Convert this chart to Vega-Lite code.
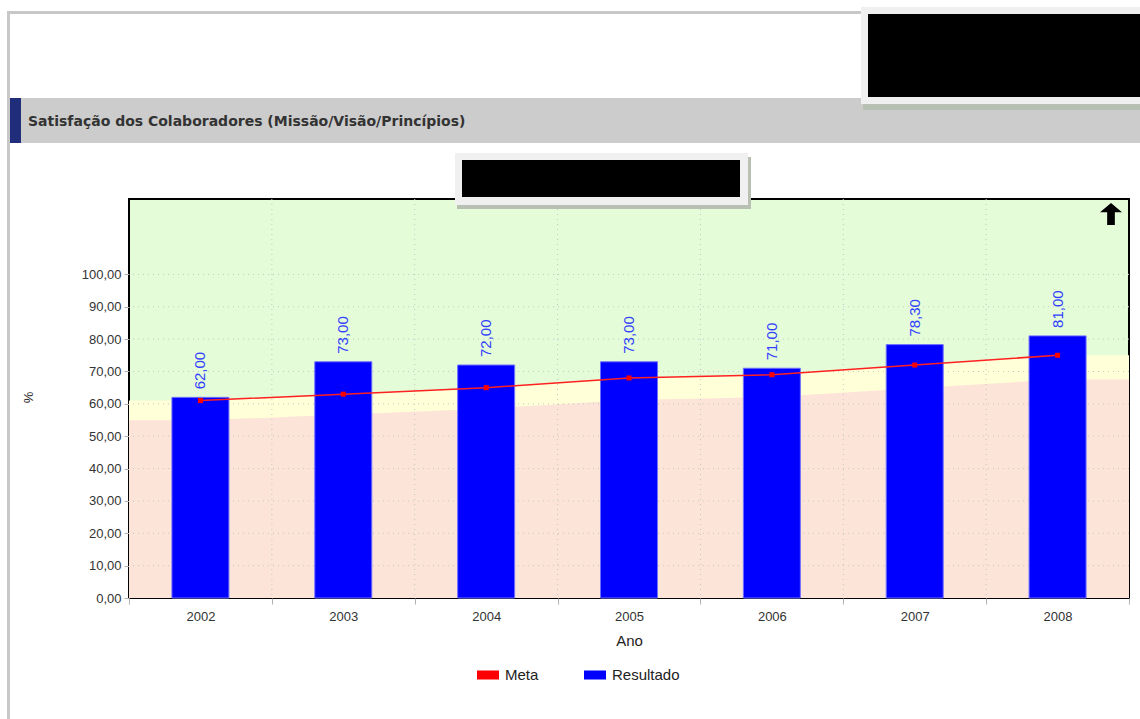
{
  "$schema": "https://vega.github.io/schema/vega-lite/v6.json",
  "width": 1000,
  "height": 399,
  "autosize": {"type": "none"},
  "padding": {"left": 129, "top": 199, "right": 11, "bottom": 121},
  "background": "#ffffff",
  "config": {
    "font": "Liberation Sans",
    "locale": {"number": {"decimal": ",", "thousands": ".", "grouping": [3], "currency": ["R$", ""]}},
    "view": {"fill": "#e4fcd8", "stroke": "#000000", "strokeWidth": 2}
  },
  "datasets": {
    "faixas": [
      {"ano": 2001.5, "meta": 61, "limite": 54.9},
      {"ano": 2002, "meta": 61, "limite": 54.9},
      {"ano": 2003, "meta": 63, "limite": 56.7},
      {"ano": 2004, "meta": 65, "limite": 58.5},
      {"ano": 2005, "meta": 68, "limite": 61.2},
      {"ano": 2006, "meta": 69, "limite": 62.1},
      {"ano": 2007, "meta": 72, "limite": 64.8},
      {"ano": 2008, "meta": 75, "limite": 67.5},
      {"ano": 2008.5, "meta": 75, "limite": 67.5}
    ],
    "gradeY": [{"v": 10}, {"v": 20}, {"v": 30}, {"v": 40}, {"v": 50}, {"v": 60}, {"v": 70}, {"v": 80}, {"v": 90}, {"v": 100}],
    "gradeX": [{"v": 2002.5}, {"v": 2003.5}, {"v": 2004.5}, {"v": 2005.5}, {"v": 2006.5}, {"v": 2007.5}],
    "resultado": [
      {"ano": 2002, "valor": 62, "serie": "Resultado"},
      {"ano": 2003, "valor": 73, "serie": "Resultado"},
      {"ano": 2004, "valor": 72, "serie": "Resultado"},
      {"ano": 2005, "valor": 73, "serie": "Resultado"},
      {"ano": 2006, "valor": 71, "serie": "Resultado"},
      {"ano": 2007, "valor": 78.3, "serie": "Resultado"},
      {"ano": 2008, "valor": 81, "serie": "Resultado"}
    ],
    "meta": [
      {"ano": 2002, "valor": 61, "serie": "Meta"},
      {"ano": 2003, "valor": 63, "serie": "Meta"},
      {"ano": 2004, "valor": 65, "serie": "Meta"},
      {"ano": 2005, "valor": 68, "serie": "Meta"},
      {"ano": 2006, "valor": 69, "serie": "Meta"},
      {"ano": 2007, "valor": 72, "serie": "Meta"},
      {"ano": 2008, "valor": 75, "serie": "Meta"}
    ],
    "bordaPagina": [
      {"x0": 2000.646, "x1": 2000.667, "y0": 181.40, "y1": -37.39},
      {"x0": 2000.646, "x1": 2006.631, "y0": 181.40, "y1": 180.47}
    ],
    "cabecalho": [{"x0": 2000.667, "x1": 2008.577, "y0": 154.51, "y1": 140.61}],
    "faixaAzul": [{"x0": 2000.667, "x1": 2000.744, "y0": 154.51, "y1": 140.61}],
    "titulo": [{"x": 2000.793, "y": 147.1, "t": "Satisfação dos Colaboradores (Missão/Visão/Princípios)"}],
    "sombra": [
      {"x0": 2006.638, "x1": 2008.577, "y0": 152.66, "y1": 150.80},
      {"x0": 2003.796, "x1": 2005.854, "y0": 121.45, "y1": 120.21},
      {"x0": 2005.833, "x1": 2005.854, "y0": 136.28, "y1": 120.21}
    ],
    "moldura": [
      {"x0": 2006.624, "x1": 2008.577, "y0": 182.63, "y1": 152.66},
      {"x0": 2003.782, "x1": 2005.833, "y0": 137.52, "y1": 121.45}
    ],
    "tarja": [
      {"x0": 2006.673, "x1": 2008.577, "y0": 180.47, "y1": 154.82},
      {"x0": 2003.831, "x1": 2005.777, "y0": 135.35, "y1": 123.92}
    ],
    "seta": [{"x": 2008.374, "y": 118.67}]
  },
  "encoding": {
    "x": {
      "field": "ano", "type": "quantitative",
      "scale": {"domain": [2001.5, 2008.5], "nice": false, "zero": false, "padding": 0},
      "axis": {
        "title": "Ano",
        "values": [2001.5, 2002, 2002.5, 2003, 2003.5, 2004, 2004.5, 2005, 2005.5, 2006, 2006.5, 2007, 2007.5, 2008, 2008.5],
        "labelExpr": "datum.value % 1 === 0 ? '' + datum.value : ''",
        "tickOpacity": {"condition": {"test": "datum.value % 1 === 0", "value": 0}, "value": 1},
        "grid": false, "domain": false,
        "tickSize": 6, "tickColor": "#b0b0b0",
        "labelFontSize": 13, "labelColor": "#333333", "labelPadding": 6,
        "labelFlush": false, "labelOverlap": false,
        "titleFontSize": 15, "titleFontWeight": "normal", "titleColor": "#222222", "titlePadding": 10
      }
    },
    "y": {
      "type": "quantitative",
      "scale": {"domain": [0, 123.3], "nice": false, "zero": true},
      "axis": {
        "title": "%",
        "values": [0, 10, 20, 30, 40, 50, 60, 70, 80, 90, 100],
        "format": ".2f",
        "grid": false, "domain": false,
        "tickSize": 5, "tickColor": "#b0b0b0",
        "labelFontSize": 13, "labelColor": "#333333", "labelPadding": 3,
        "titleFontSize": 13, "titleFontWeight": "normal", "titleColor": "#222222",
        "titleX": -101, "titleY": 198, "titleBaseline": "middle", "titleAngle": 270
      }
    }
  },
  "layer": [
    {
      "data": {"name": "faixas"},
      "mark": {"type": "area", "color": "#ffffd8", "interpolate": "linear"},
      "encoding": {"y": {"field": "meta"}}
    },
    {
      "data": {"name": "faixas"},
      "mark": {"type": "area", "color": "#fde4d8", "interpolate": "linear"},
      "encoding": {"y": {"field": "limite"}}
    },
    {
      "data": {"name": "gradeY"},
      "mark": {"type": "rule", "color": "#c4c8c4", "strokeDash": [1, 4], "strokeWidth": 1},
      "encoding": {"x": null, "y": {"field": "v"}}
    },
    {
      "data": {"name": "gradeX"},
      "mark": {"type": "rule", "color": "#c4c8c4", "strokeDash": [1, 4], "strokeWidth": 1},
      "encoding": {"y": null, "x": {"field": "v"}}
    },
    {
      "data": {"name": "resultado"},
      "mark": {"type": "bar", "size": 57, "stroke": "#7070ff", "strokeWidth": 1},
      "encoding": {
        "y": {"field": "valor"},
        "color": {
          "field": "serie", "type": "nominal",
          "scale": {"domain": ["Meta", "Resultado"], "range": ["#ff0000", "#0000ff"]},
          "legend": {
            "title": null, "orient": "none", "direction": "horizontal",
            "legendX": 348, "legendY": 465, "padding": 0,
            "symbolType": "M-1,-0.41L1,-0.41L1,0.41L-1,0.41Z", "symbolSize": 484,
            "symbolStrokeWidth": 0, "symbolOpacity": 1,
            "labelFontSize": 15, "labelColor": "#222222", "labelOffset": 6,
            "columnPadding": 45
          }
        }
      }
    },
    {
      "data": {"name": "resultado"},
      "mark": {"type": "text", "angle": 270, "align": "left", "baseline": "middle", "dx": 8, "fontSize": 15, "color": "#3340ff"},
      "encoding": {"y": {"field": "valor"}, "text": {"field": "valor", "type": "quantitative", "format": ".2f"}}
    },
    {
      "data": {"name": "meta"},
      "mark": {"type": "line", "color": "#ff2020", "strokeWidth": 1.5},
      "encoding": {"y": {"field": "valor"}}
    },
    {
      "data": {"name": "meta"},
      "mark": {"type": "point", "shape": "square", "size": 25, "filled": true, "opacity": 1},
      "encoding": {"y": {"field": "valor"}, "color": {"field": "serie", "type": "nominal"}}
    },
    {
      "data": {"name": "seta"},
      "mark": {"type": "point", "shape": "M0,-1L1,-0.15L0.35,-0.15L0.35,1L-0.35,1L-0.35,-0.15L-1,-0.15Z", "size": 484, "filled": true, "color": "#000000", "opacity": 1},
      "encoding": {"x": {"field": "x"}, "y": {"field": "y"}}
    },
    {
      "data": {"name": "bordaPagina"},
      "mark": {"type": "rect", "color": "#c8c8c8"},
      "encoding": {"x": {"field": "x0"}, "x2": {"field": "x1"}, "y": {"field": "y0"}, "y2": {"field": "y1"}}
    },
    {
      "data": {"name": "cabecalho"},
      "mark": {"type": "rect", "color": "#cccccc"},
      "encoding": {"x": {"field": "x0"}, "x2": {"field": "x1"}, "y": {"field": "y0"}, "y2": {"field": "y1"}}
    },
    {
      "data": {"name": "faixaAzul"},
      "mark": {"type": "rect", "color": "#1f2d7a"},
      "encoding": {"x": {"field": "x0"}, "x2": {"field": "x1"}, "y": {"field": "y0"}, "y2": {"field": "y1"}}
    },
    {
      "data": {"name": "titulo"},
      "mark": {"type": "text", "align": "left", "baseline": "middle", "font": "DejaVu Sans", "fontSize": 14, "fontWeight": "bold", "color": "#333333"},
      "encoding": {"x": {"field": "x"}, "y": {"field": "y"}, "text": {"field": "t"}}
    },
    {
      "data": {"name": "sombra"},
      "mark": {"type": "rect", "color": "#b8c0b4"},
      "encoding": {"x": {"field": "x0"}, "x2": {"field": "x1"}, "y": {"field": "y0"}, "y2": {"field": "y1"}}
    },
    {
      "data": {"name": "moldura"},
      "mark": {"type": "rect", "color": "#f0f0f0"},
      "encoding": {"x": {"field": "x0"}, "x2": {"field": "x1"}, "y": {"field": "y0"}, "y2": {"field": "y1"}}
    },
    {
      "data": {"name": "tarja"},
      "mark": {"type": "rect", "color": "#000000"},
      "encoding": {"x": {"field": "x0"}, "x2": {"field": "x1"}, "y": {"field": "y0"}, "y2": {"field": "y1"}}
    }
  ]
}
